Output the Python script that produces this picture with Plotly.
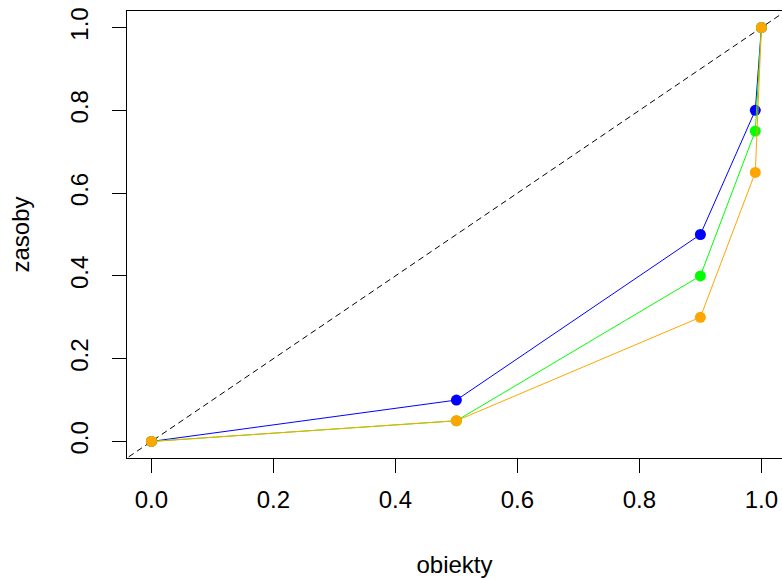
import plotly.graph_objects as go

# Lorenz-type curves: cumulative share of objects (x) vs cumulative share of stock (y)
obiekty = [0.0, 0.5, 0.9, 0.99, 1.0]
zasoby_blue = [0.0, 0.10, 0.50, 0.80, 1.0]
zasoby_green = [0.0, 0.05, 0.40, 0.75, 1.0]
zasoby_orange = [0.0, 0.05, 0.30, 0.65, 1.0]
diag = [-0.2, 1.2]
tick_vals = [0.0, 0.2, 0.4, 0.6, 0.8, 1.0]
tick_text = ["0.0", "0.2", "0.4", "0.6", "0.8", "1.0"]

FONT = "Liberation Sans, Arial, sans-serif"

fig = go.Figure()
fig.add_trace(go.Scatter(x=diag, y=diag, mode="lines",
                         line=dict(color="black", width=1, dash="6px,4px"),
                         hoverinfo="skip"))
for ys, col in [(zasoby_blue, "#0000FF"), (zasoby_green, "#00FF00"), (zasoby_orange, "#FFA500")]:
    fig.add_trace(go.Scatter(x=obiekty, y=ys, mode="lines+markers",
                             line=dict(color=col, width=1),
                             marker=dict(color=col, size=11)))

fig.update_layout(
    width=782, height=580,
    margin=dict(l=127, r=0, t=11, b=122),
    plot_bgcolor="white", paper_bgcolor="white",
    showlegend=False,
    font=dict(family=FONT, size=24, color="black"),
)
fig.update_xaxes(
    range=[-0.04, -0.04 + 655 / 610], tickvals=tick_vals, ticktext=tick_text,
    showgrid=False, zeroline=False,
    showline=True, linecolor="black", linewidth=1, mirror=True,
    ticks="outside", ticklen=14, tickcolor="black", tickwidth=1,
    ticklabelstandoff=6,
    title=dict(text="obiekty", standoff=44, font=dict(size=24)),
)
fig.update_yaxes(
    range=[-0.04, 1.04], tickvals=tick_vals, ticktext=tick_text,
    showgrid=False, zeroline=False,
    showline=True, linecolor="black", linewidth=1, mirror=False,
    ticks="outside", ticklen=14, tickcolor="black", tickwidth=1,
    tickangle=-90, ticklabelstandoff=14,
    title=dict(text="zasoby", standoff=30, font=dict(size=24)),
)

fig.write_html("out.html")
